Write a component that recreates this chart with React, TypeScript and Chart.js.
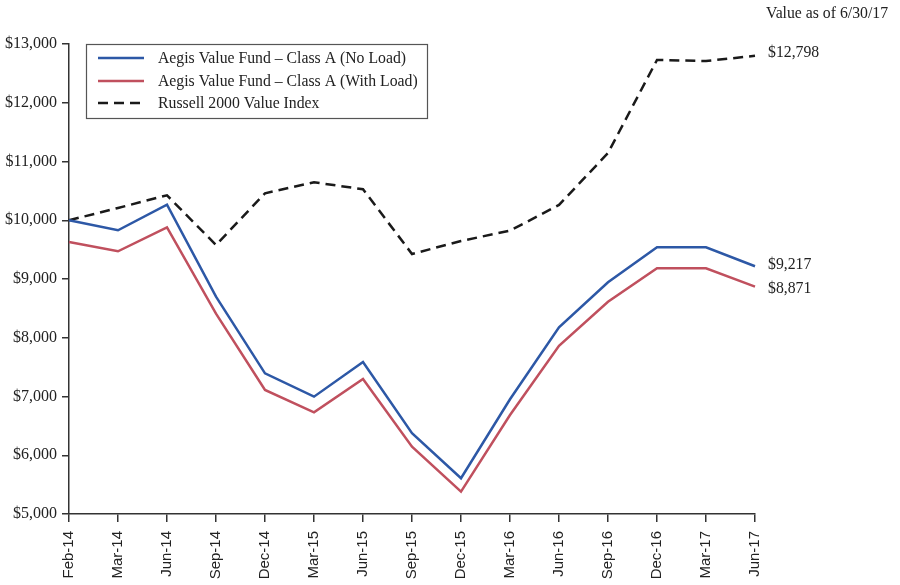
import React, { useEffect, useRef } from "react";
import { Chart, registerables } from "chart.js";

Chart.register(...registerables);

const categories = [
  "Feb-14", "Mar-14", "Jun-14", "Sep-14", "Dec-14", "Mar-15", "Jun-15", "Sep-15",
  "Dec-15", "Mar-16", "Jun-16", "Sep-16", "Dec-16", "Mar-17", "Jun-17",
];
const noLoad = [10000, 9830, 10265, 8700, 7394, 6997, 7587, 6374, 5608, 6953, 8178, 8944, 9540, 9540, 9217];
const withLoad = [9630, 9472, 9880, 8410, 7111, 6731, 7298, 6146, 5380, 6685, 7864, 8613, 9182, 9182, 8871];
const russell = [10000, 10209, 10425, 9579, 10459, 10646, 10527, 9426, 9647, 9823, 10260, 11145, 12728, 12711, 12798];
const seriesLabels = [
  "Aegis Value Fund \u2013 Class A (No Load)",
  "Aegis Value Fund \u2013 Class A (With Load)",
  "Russell 2000 Value Index",
];
const endLabels = ["$9,217", "$8,871", "$12,798"];
const headerText = "Value as of 6/30/17";
const yMin = 5000;
const yMax = 13000;
const yStep = 1000;

const BLUE = "#2d58a6";
const RED = "#c0505e";
const BLACK = "#1a1a1a";
const TEXT = "#222";
const SERIF = "'Liberation Serif', 'DejaVu Serif', serif";
const SANS = "'Liberation Sans', Arial, sans-serif";

const overlayPlugin = {
  id: "overlay",
  afterDraw(chart: any) {
    const ctx = chart.ctx as CanvasRenderingContext2D;
    const y = chart.scales.y;
    ctx.save();
    // legend box
    ctx.strokeStyle = "#555";
    ctx.lineWidth = 1.2;
    ctx.strokeRect(86.5, 44.5, 341, 74);
    const rowsY = [58, 81, 103];
    ctx.font = `15.75px ${SERIF}`;
    ctx.textBaseline = "middle";
    ctx.textAlign = "left";
    chart.data.datasets.forEach((ds: any, i: number) => {
      ctx.beginPath();
      ctx.strokeStyle = ds.borderColor;
      ctx.lineWidth = 2.5;
      ctx.setLineDash(ds.borderDash || []);
      ctx.moveTo(98, rowsY[i]);
      ctx.lineTo(144, rowsY[i]);
      ctx.stroke();
      ctx.setLineDash([]);
      ctx.fillStyle = TEXT;
      ctx.fillText(seriesLabels[i], 158, rowsY[i] + 1);
    });
    // end labels
    const lastIdx = categories.length - 1;
    const offsets = [-1, 2, -3];
    chart.data.datasets.forEach((ds: any, i: number) => {
      const py = y.getPixelForValue(ds.data[lastIdx]) + offsets[i];
      ctx.fillStyle = TEXT;
      ctx.fillText(endLabels[i], 768, py);
    });
    // header
    ctx.fillText(headerText, 766, 14);
    ctx.restore();
  },
};

export default function App() {
  const ref = useRef<HTMLCanvasElement | null>(null);
  useEffect(() => {
    document.body.style.margin = "0";
    const canvas = ref.current;
    if (!canvas) return;
    const chart = new Chart(canvas, {
      type: "line",
      data: {
        labels: categories,
        datasets: [
          { label: seriesLabels[0], data: noLoad, borderColor: BLUE, borderWidth: 2.5, pointRadius: 0, tension: 0, fill: false },
          { label: seriesLabels[1], data: withLoad, borderColor: RED, borderWidth: 2.5, pointRadius: 0, tension: 0, fill: false },
          { label: seriesLabels[2], data: russell, borderColor: BLACK, borderWidth: 2.5, borderDash: [10, 6], pointRadius: 0, tension: 0, fill: false },
        ],
      },
      options: {
        responsive: false,
        animation: false,
        layout: { padding: { left: 0, right: 145, top: 44, bottom: 0 } },
        plugins: { legend: { display: false }, tooltip: { enabled: false }, title: { display: false } },
        scales: {
          x: {
            type: "category",
            offset: false,
            grid: { drawOnChartArea: false, drawTicks: true, tickLength: 8, color: "#333", lineWidth: 1.5 },
            border: { display: true, color: "#333", width: 1.5 },
            ticks: {
              autoSkip: false,
              maxRotation: 90,
              minRotation: 90,
              padding: 9,
              color: TEXT,
              font: { family: SANS, size: 15 },
            },
            afterFit(scale: any) {
              scale.height = 71;
            },
          },
          y: {
            min: yMin,
            max: yMax,
            grid: { drawOnChartArea: false, drawTicks: true, tickLength: 7, color: "#333", lineWidth: 1.5 },
            border: { display: true, color: "#333", width: 1.5 },
            ticks: {
              stepSize: yStep,
              padding: 5,
              color: TEXT,
              font: { family: SERIF, size: 16 },
              callback: (v: any) => "$" + Number(v).toLocaleString("en-US"),
            },
            afterFit(scale: any) {
              scale.width = 69;
            },
          },
        },
      },
      plugins: [overlayPlugin],
    });
    return () => chart.destroy();
  }, []);
  return (
    <div style={{ width: 900, height: 585, background: "#fff" }}>
      <canvas ref={ref} width={900} height={585} />
    </div>
  );
}
